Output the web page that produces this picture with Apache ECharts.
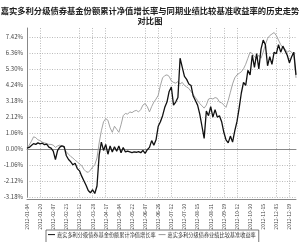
<!DOCTYPE html>
<html><head><meta charset="utf-8">
<script src="https://cdn.jsdelivr.net/npm/echarts@6/dist/echarts.min.js"></script>
<style>html,body{margin:0;padding:0;background:#fff}#c{width:300px;height:242px}</style>
</head><body><div id="c"></div>
<script>
const tickLabels = ['2012-01-04','2012-01-20','2012-02-07','2012-02-23','2012-03-12','2012-03-28','2012-04-17','2012-05-04','2012-05-22','2012-06-07','2012-06-26','2012-07-12','2012-07-30','2012-08-15','2012-08-31','2012-09-19','2012-10-12','2012-10-30','2012-11-15','2012-12-03','2012-12-19'];
const labelStep = 6;
const gridLabelIdx = [1,4,5,6,9,10,11,14,15,16,19,20];
const fundName = '嘉实多利分级债券基金份额累计净值增长率';
const benchName = '嘉实多利分级债券业绩比较基准收益率';
const fund = [0.05,0.10,0.22,0.35,0.30,0.40,0.33,0.38,0.28,0.32,0.12,0.05,-0.15,-0.70,-0.10,0.12,0.20,0.15,-0.45,-0.70,
-0.85,-1.05,-0.95,-1.30,-1.45,-1.80,-2.10,-2.40,-2.75,-2.90,-2.70,-2.95,-2.45,-0.40,0.45,-0.10,0.30,-0.35,0.20,-0.20,
0.15,-0.15,0.20,-0.25,0.10,-0.20,-0.15,-0.20,-0.25,-0.20,-0.22,-0.18,-0.25,-0.10,-0.30,-0.05,0.10,0.55,0.25,0.60,
1.50,1.80,2.20,2.75,3.10,3.80,4.10,2.90,3.10,3.40,6.00,5.40,4.80,4.60,4.30,4.20,3.50,3.20,2.90,2.30,
1.50,0.70,2.50,2.20,2.80,2.10,2.60,2.10,2.20,1.80,1.10,0.60,0.40,0.85,0.45,1.20,1.80,2.70,3.70,4.40,
4.20,5.20,4.90,6.20,5.40,6.30,5.30,6.60,7.20,6.90,5.50,6.10,5.60,6.40,6.30,6.90,6.40,6.80,6.50,6.20,
5.70,6.10,6.40,4.90];
const bench = [0.05,0.25,0.50,0.80,0.75,0.60,0.55,0.45,0.40,0.35,0.30,0.30,0.25,0.10,0.20,0.25,0.20,0.05,-0.20,-0.35,
-0.50,-0.60,-0.75,-0.85,-1.00,-1.10,-1.35,-1.50,-1.55,-1.40,-1.20,-1.05,-0.60,0.40,1.20,1.80,2.00,1.90,1.40,1.10,
1.50,1.30,1.10,1.60,2.20,2.35,2.30,2.45,2.40,2.50,2.55,2.45,2.60,2.90,3.00,2.80,2.45,2.80,3.10,3.30,
3.55,4.20,4.70,4.85,4.90,4.80,4.50,4.40,4.35,4.45,4.30,4.40,4.20,4.10,4.00,3.80,3.60,3.40,3.20,3.00,
2.85,2.70,2.90,3.30,3.35,3.30,3.40,3.35,3.10,3.05,2.90,2.75,3.20,3.75,4.30,4.70,4.90,5.00,5.10,5.30,
5.60,6.00,6.40,6.30,6.10,6.00,6.20,6.00,6.40,6.90,7.30,7.50,7.60,7.70,7.50,7.20,6.90,6.70,6.60,6.40,
6.50,6.40,6.20,4.70];

const cats = fund.map((v, i) => String(i));
const font = '"Noto Sans CJK SC","DejaVu Sans",sans-serif';
const chart = echarts.init(document.getElementById('c'));
chart.setOption({
  animation: false,
  title: {
    text: '嘉实多利分级债券基金份额累计净值增长率与同期业绩比较基准收益率的历史走势\n对比图',
    left: 'center', top: 1,
    textStyle: {fontSize: 8.3, fontWeight: 'bold', color: '#222', fontFamily: font, lineHeight: 10}
  },
  legend: {
    left: 46, top: 230, padding: [2, 3, 6, 2], itemGap: 3,
    itemWidth: 7, itemHeight: 1, icon: 'rect',
    borderColor: '#555', borderWidth: 0.8,
    textStyle: {fontSize: 5.2, color: '#333', fontFamily: font, padding: [0, 0, 0, -3]},
    data: [fundName, benchName]
  },
  grid: {left: 27, right: 4, top: 28, bottom: 45, containLabel: false},
  xAxis: [{
    type: 'category', data: cats, boundaryGap: false,
    axisLine: {lineStyle: {color: '#888', width: 1}},
    axisTick: {show: false},
    axisLabel: {
      rotate: 90, fontSize: 5, color: '#444', margin: 7, fontFamily: font,
      interval: (i) => i % labelStep === 0,
      formatter: (v, i) => (i % labelStep === 0 ? tickLabels[i / labelStep] : '')
    },
    splitLine: {
      show: true,
      interval: (i) => i % labelStep === 0 && gridLabelIdx.indexOf(i / labelStep) >= 0,
      lineStyle: {color: '#aaa', type: [1, 1.5], width: 0.8}
    }
  }, {
    type: 'category', data: cats, boundaryGap: false, position: 'bottom', offset: 2,
    axisLine: {lineStyle: {color: '#888', width: 1}},
    axisTick: {show: false}, axisLabel: {show: false}, splitLine: {show: false}
  }],
  yAxis: {
    type: 'value', min: -3.18, max: 8.0, interval: 1.06,
    axisLine: {show: true, lineStyle: {color: '#888', width: 1}},
    axisTick: {show: false},
    axisLabel: {fontSize: 6, color: '#444', margin: 4, fontFamily: font, showMaxLabel: false,
      formatter: (v) => v.toFixed(2) + '%'},
    splitLine: {show: true, showMaxLine: false, lineStyle: {color: '#aaa', type: [1, 1.5], width: 0.8}}
  },
  series: [
    {name: benchName, type: 'line', data: bench, showSymbol: false, symbol: 'none',
      lineStyle: {color: '#999', width: 0.9}, itemStyle: {color: '#999'}, z: 2},
    {name: fundName, type: 'line', data: fund, showSymbol: false, symbol: 'none',
      lineStyle: {color: '#111', width: 1.3}, itemStyle: {color: '#111'}, z: 3}
  ]
});
</script></body></html>
